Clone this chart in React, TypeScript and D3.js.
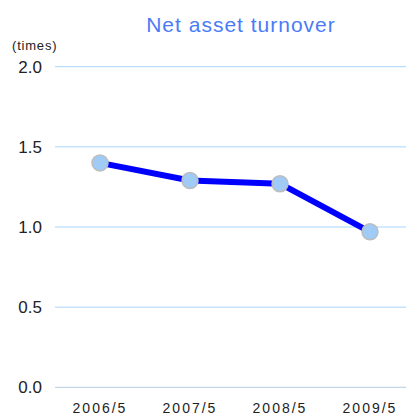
import React from "react"
import * as d3 from "d3"

const periods = ["2006/5", "2007/5", "2008/5", "2009/5"]
const turnover = [1.40, 1.29, 1.27, 0.97]
const yTicks = [0, 0.5, 1.0, 1.5, 2.0]

export default function App() {
  const w = 406
  const h = 415

  const x = d3.scaleBand<string>().domain(periods).range([55, 415])
  const y = d3.scaleLinear().domain([0, 2]).range([387.3, 66.7])

  const line = d3.line<number>()
    .x((_, i) => (x(periods[i]) as number) + x.bandwidth() / 2)
    .y(d => y(d))

  const font = "Arial, 'Liberation Sans', sans-serif"

  return (
    <svg width={w} height={h} style={{ position: "absolute", left: 0, top: 0 }} fontFamily={font}>
      <text x={241} y={32} textAnchor="middle" fontSize={21} letterSpacing={1} fill="#4a7bf7">Net asset turnover</text>
      <text x={12} y={50} fontSize={13} letterSpacing={0.8} fill="#222">(times)</text>

      {yTicks.map(t => (
        <g key={t}>
          <line x1={55} x2={406} y1={y(t)} y2={y(t)} stroke={t === 0 ? "#b4cbe6" : "#a8d4fb"} strokeWidth={1} />
          <text x={42} y={y(t) + 6} textAnchor="end" fontSize={17} fill="#222">{d3.format(".1f")(t)}</text>
        </g>
      ))}

      {periods.map(p => (
        <text key={p} x={(x(p) as number) + x.bandwidth() / 2} y={413} textAnchor="middle" fontSize={14} letterSpacing={2} fill="#222">{p}</text>
      ))}

      <path d={line(turnover) || ""} fill="none" stroke="#0000ff" strokeWidth={6} strokeLinejoin="round" />

      {turnover.map((v, i) => (
        <circle key={i} cx={(x(periods[i]) as number) + x.bandwidth() / 2} cy={y(v)} r={8} fill="#9fcbf6" stroke="#bdbdbd" strokeWidth={1.5} />
      ))}
    </svg>
  )
}
